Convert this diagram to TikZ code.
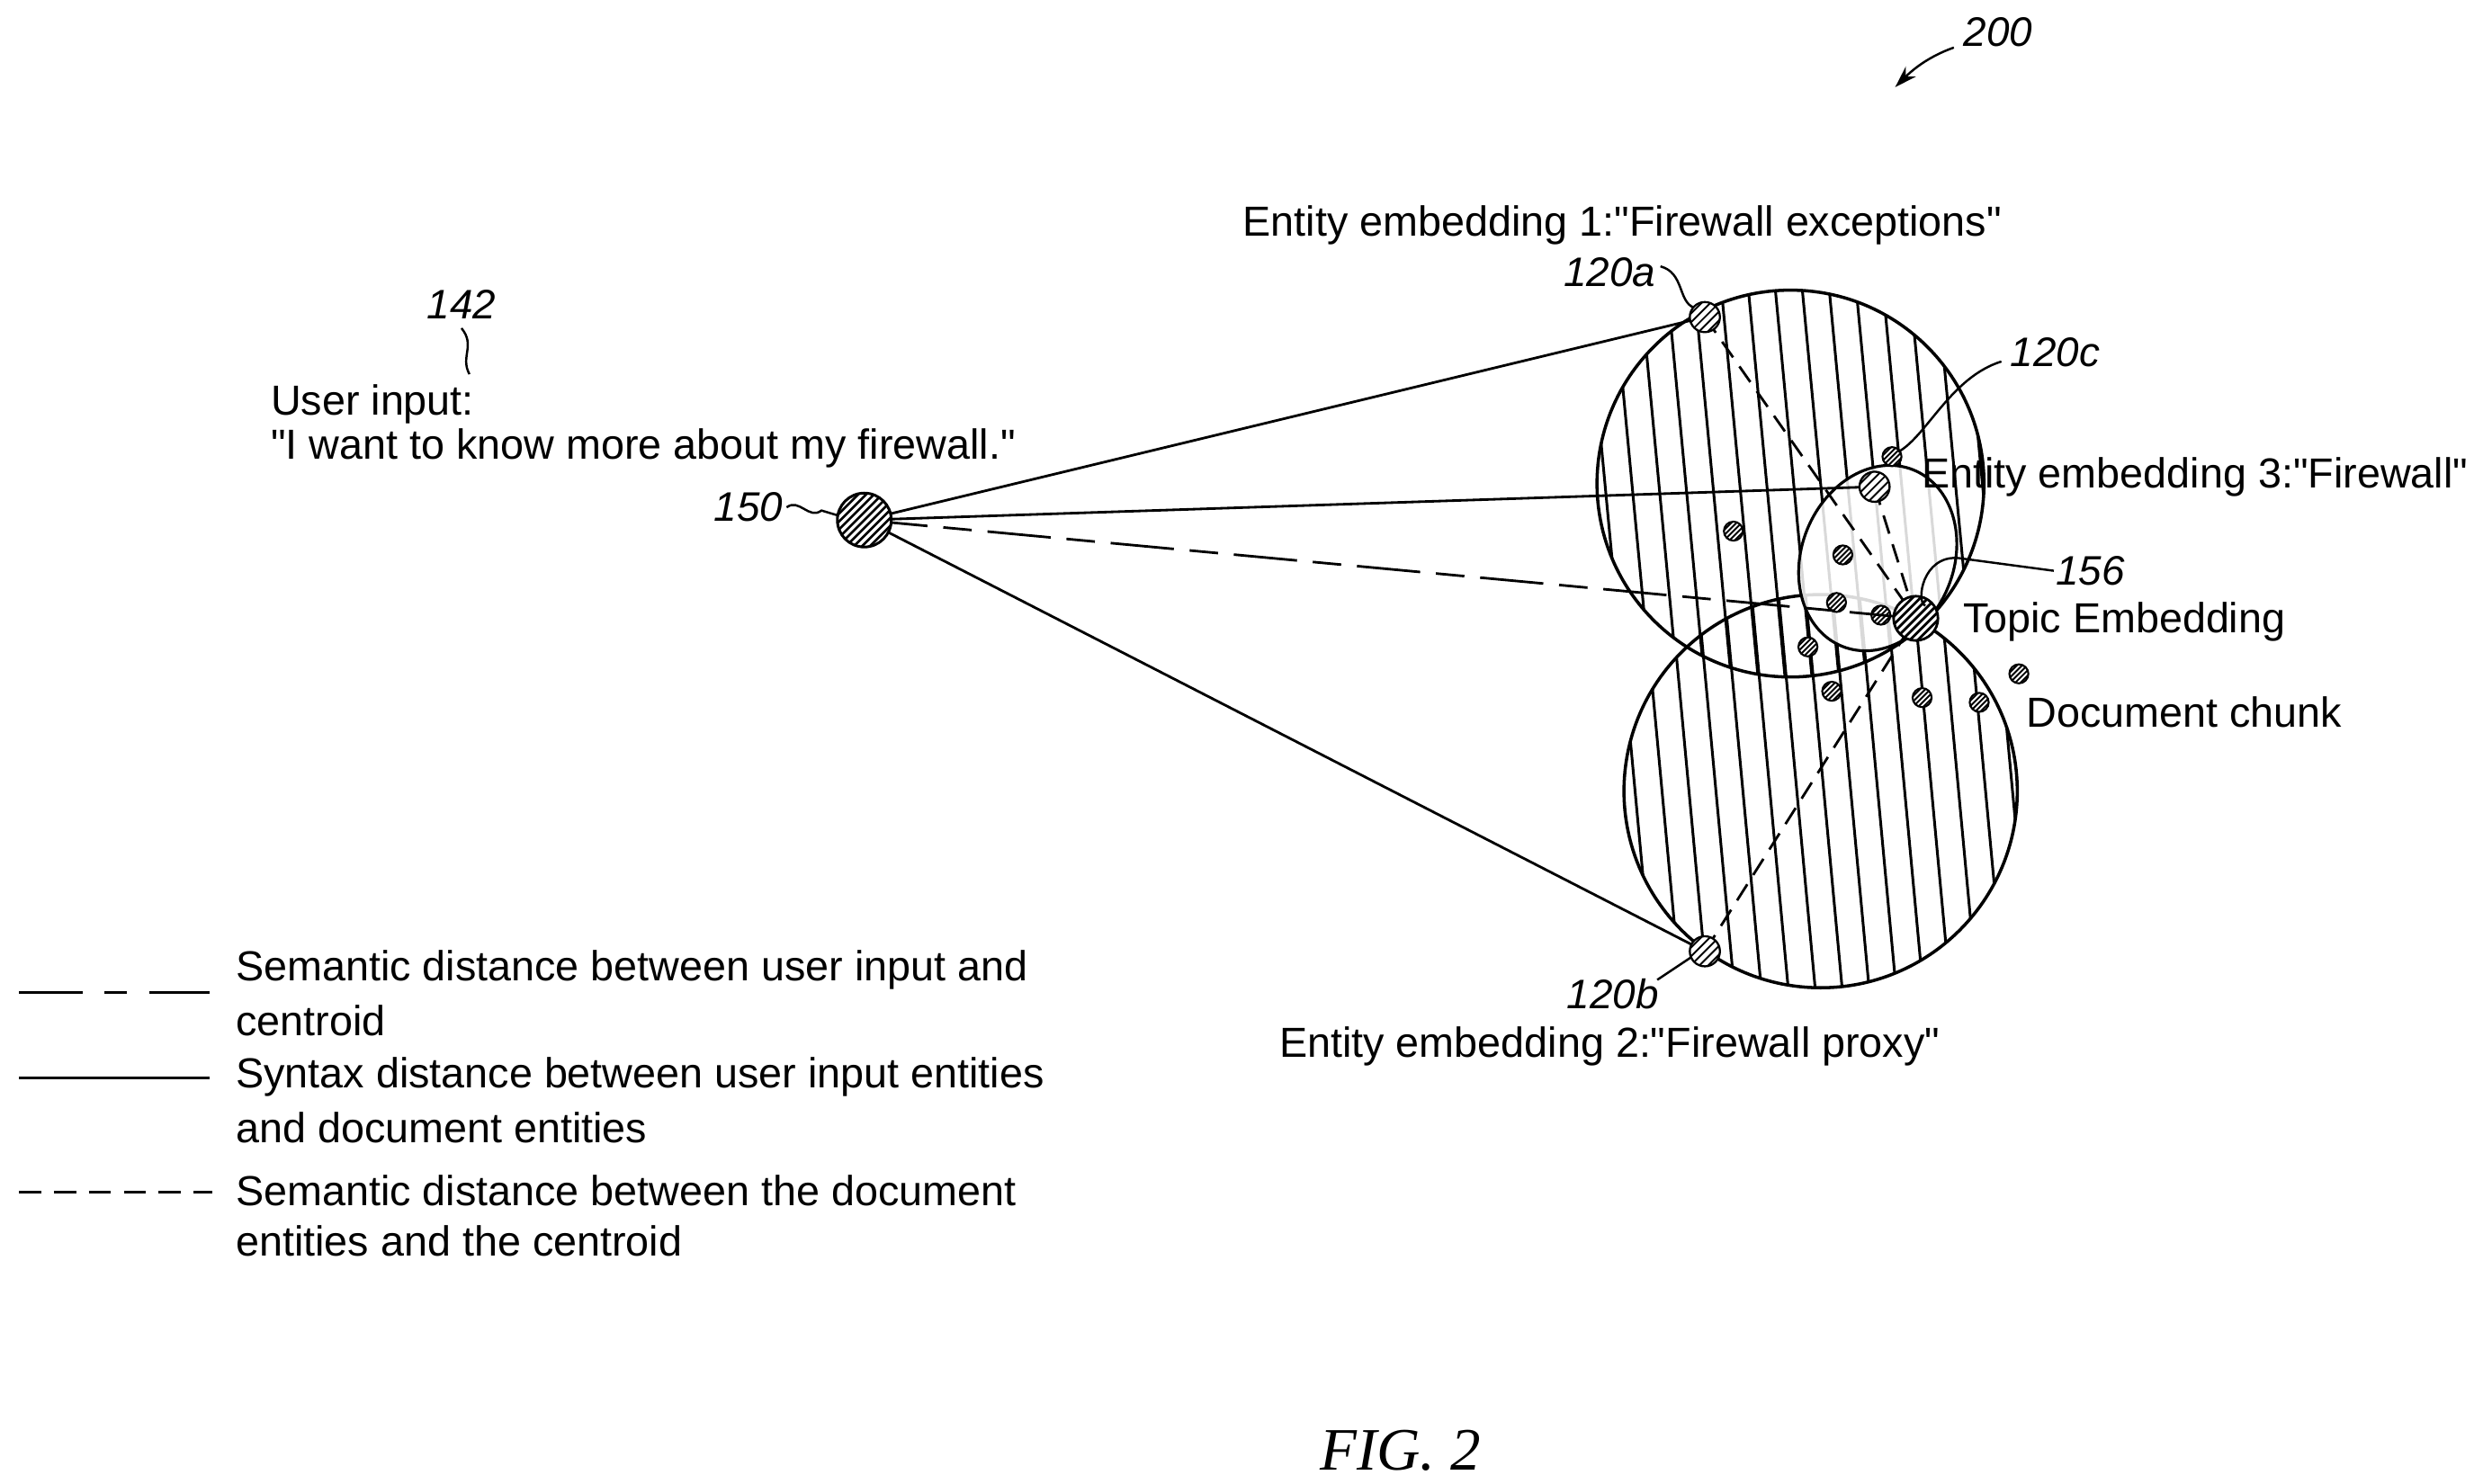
\documentclass[tikz,border=0pt]{standalone}
\usepackage{fontspec}
\setmainfont{Liberation Sans}
\newfontfamily\figfont{Liberation Serif}
\usetikzlibrary{arrows.meta}
\newcommand{\qq}{\textquotedbl}
\begin{document}
\begin{tikzpicture}[x=1pt,y=-1pt,line width=1.6pt,
  txt/.style={font=\fontsize{26.5}{30}\selectfont,inner sep=0pt},
  ref/.style={font=\fontsize{26}{30}\selectfont\itshape,inner sep=0pt},
  lead/.style={line width=1.4pt},
  dsh/.style={dash pattern=on 12pt off 7pt},
  ldsh/.style={dash pattern=on 40pt off 10pt on 18pt off 10pt}]
\useasboundingbox (0,0) rectangle (1560,936);
% hatched big circles
\foreach \cx/\cy/\r in {1129/305/122,1148/499/124}{
  \begin{scope}
    \clip (\cx,\cy) circle (\r);
    \foreach \i in {-8,...,8}{
      \draw[line width=1.7pt] (\cx+\i*17-10,\cy-\r-5) -- (\cx+\i*17+14,\cy+\r+5);
    }
  \end{scope}
  \draw[line width=2pt] (\cx,\cy) circle (\r);
}
% region 156 ellipse
\draw[line width=1.8pt,fill=white,fill opacity=0.85] (1184,352) ellipse[x radius=48,y radius=60,rotate=-22];
% small document chunk dots
\newcommand{\hdot}[3]{%
  \begin{scope}
  \clip (#1,#2) circle (#3);
  \fill[white] (#1,#2) circle (#3);
  \foreach \k in {-3,...,3}{\draw[line width=1.1pt] (#1-#3+\k*#3*0.55,#2+#3) -- (#1+#3+\k*#3*0.55,#2-#3);}
  \end{scope}
  \draw[line width=1.2pt] (#1,#2) circle (#3);}
\foreach \p/\q in {1093/335,1162/350,1158/380,1186/388,1140/408,1155/436,1212/440,1248/443,1193/288,1273/425}{
  \hdot{\p}{\q}{6}
}
% entity nodes
\coordinate (a) at (1075,200);
\coordinate (b) at (1075,600);
\coordinate (c) at (1182,307);
\coordinate (t) at (1208,390);
\coordinate (u) at (545,328);
% connectors
\draw (u) -- (a);
\draw (u) -- (c);
\draw (u) -- (b);
\draw[ldsh] (u) -- (t);
\draw[dsh,-{Stealth[length=12pt]}] (a) -- (t);
\draw[dsh,-{Stealth[length=12pt]}] (b) -- (t);
\draw[dsh,-{Stealth[length=12pt]}] (c) -- (t);
\foreach \n/\rr in {a/9.5,b/9.5,c/9.5}{
  \begin{scope}\clip (\n) circle (\rr); \fill[white] (\n) circle (\rr);
  \foreach \k in {-2,...,2}{\draw[line width=1.1pt] ([shift={(-\rr+\k*5.5,\rr)}]\n) -- ([shift={(\rr+\k*5.5,-\rr)}]\n);}
  \end{scope}
  \draw[line width=1.3pt] (\n) circle (\rr);
}
\begin{scope}\clip (t) circle (14); \fill[white] (t) circle (14);
  \foreach \k in {-4,...,4}{\draw[line width=1.6pt] ([shift={(-14+\k*5,14)}]t) -- ([shift={(14+\k*5,-14)}]t);}
\end{scope}
\draw[line width=1.6pt] (t) circle (14);
\begin{scope}\clip (u) circle (17); \fill[white] (u) circle (17);
  \foreach \k in {-5,...,5}{\draw[line width=1.5pt] ([shift={(-17+\k*5,17)}]u) -- ([shift={(17+\k*5,-17)}]u);}
\end{scope}
\draw[line width=1.7pt] (u) circle (17);
% labels
\node[txt] (e1) at (1023,142) {Entity embedding 1:\qq Firewall exceptions\qq};
\node[ref] (l120a) at (1015,172) {120a};
\draw[lead] (1047,168) .. controls (1062,172) and (1058,190) .. (1068,194);
\node[ref] (l120c) at (1296,222) {120c};
\draw[lead] (1262,228) .. controls (1230,238) and (1215,275) .. (1197,285);
\node[txt,anchor=west] (e3) at (1211,301) {Entity embedding 3:\qq Firewall\qq};
\node[ref] (l156) at (1318,360) {156};
\draw[lead] (1295,360) -- (1235,352) .. controls (1212,350) and (1208,380) .. (1214,382);
\node[txt,anchor=west] (te) at (1237,392) {Topic Embedding};
\node[txt,anchor=west] (dc) at (1277,449) {Document chunk};
\node[ref] (l120b) at (1017,627) {120b};
\draw[lead] (1045,618) -- (1066,604);
\node[txt] (e2) at (1015,660) {Entity embedding 2:\qq Firewall proxy\qq};
\node[ref] (l150) at (472,320) {150};
\draw[lead] (496,320) .. controls (504,314) and (510,328) .. (518,322) -- (528,325);
\node[ref] (l142) at (291,192) {142};
\draw[lead] (291,207) .. controls (300,218) and (290,225) .. (296,236);
\node[txt,anchor=west] (ui1) at (170,255) {User input:};
\node[txt,anchor=west] (ui2) at (170,283) {\qq I want to know more about my firewall.\qq};
\node[ref] (l200) at (1260,20) {200};
\draw[lead,-{Stealth[length=14pt,width=9pt]}] (1232,30) .. controls (1215,36) and (1205,45) .. (1195,55);
% legend
\draw[lead] (12,626) -- (52,626); \draw[lead] (66,626) -- (80,626); \draw[lead] (94,626) -- (132,626);
\draw[lead] (12,680) -- (132,680);
\draw[lead,dash pattern=on 14pt off 8pt] (12,752) -- (134,752);
\node[txt,anchor=west] (g1) at (148,612) {Semantic distance between user input and};
\node[txt,anchor=west] (g1b) at (148,644) {centroid};
\node[txt,anchor=west] (g2) at (148,679) {Syntax distance between user input entities};
\node[txt,anchor=west] (g2b) at (148,711) {and document entities};
\node[txt,anchor=west] (g3) at (148,751) {Semantic distance between the document};
\node[txt,anchor=west] (g3b) at (148,783) {entities and the centroid};
\node[font=\figfont\fontsize{38}{42}\selectfont\itshape] (fig) at (883,915) {FIG. 2};
\end{tikzpicture}
\end{document}
